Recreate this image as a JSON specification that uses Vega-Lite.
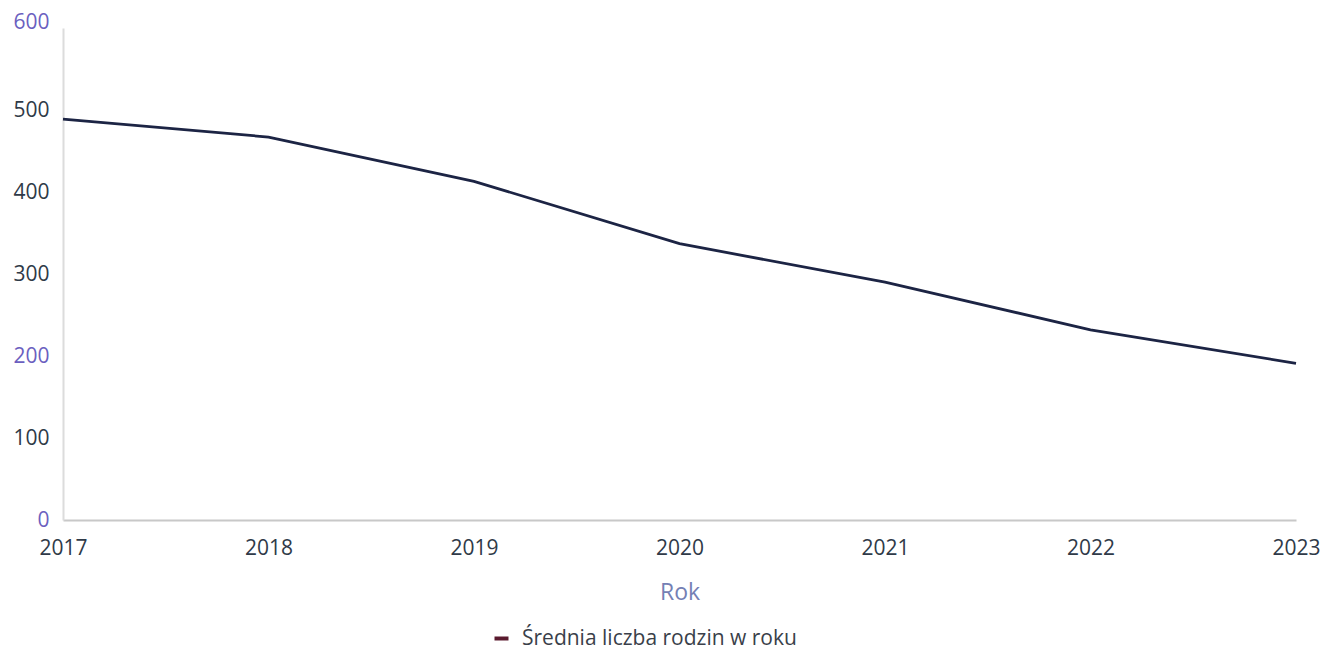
{
  "$schema": "https://vega.github.io/schema/vega-lite/v6.json",
  "width": 1233,
  "height": 492,
  "autosize": {"type": "none"},
  "padding": {"left": 63, "top": 28, "right": 26, "bottom": 130},
  "background": "white",
  "config": {
    "view": {"stroke": null},
    "font": "Open Sans",
    "axis": {"grid": false, "ticks": false, "labelFont": "Open Sans", "titleFont": "Open Sans"}
  },
  "data": {
    "values": [
      {"rok": 2017, "wartosc": 489, "seria": "Średnia liczba rodzin w roku"},
      {"rok": 2018, "wartosc": 467, "seria": "Średnia liczba rodzin w roku"},
      {"rok": 2019, "wartosc": 413, "seria": "Średnia liczba rodzin w roku"},
      {"rok": 2020, "wartosc": 337, "seria": "Średnia liczba rodzin w roku"},
      {"rok": 2021, "wartosc": 290, "seria": "Średnia liczba rodzin w roku"},
      {"rok": 2022, "wartosc": 232, "seria": "Średnia liczba rodzin w roku"},
      {"rok": 2023, "wartosc": 191, "seria": "Średnia liczba rodzin w roku"}
    ]
  },
  "encoding": {
    "x": {
      "field": "rok",
      "type": "quantitative",
      "scale": {"domain": [2017, 2023], "nice": false, "zero": false},
      "axis": {
        "values": [2017, 2018, 2019, 2020, 2021, 2022, 2023],
        "format": "d",
        "title": "Rok",
        "titleColor": "#7480b4",
        "titleFontSize": 23,
        "titleFontWeight": "normal",
        "titlePadding": 23,
        "labelFontSize": 21,
        "labelColor": "#2f3a48",
        "labelPadding": 17,
        "labelFlush": false,
        "domainColor": "#c8c8c8",
        "domainWidth": 2
      }
    },
    "y": {
      "field": "wartosc",
      "type": "quantitative",
      "scale": {"domain": [0, 600], "nice": false},
      "axis": {
        "values": [0, 100, 200, 300, 400, 500, 600],
        "title": null,
        "labelFontSize": 21,
        "labelPadding": 14,
        "labelOffset": {"condition": {"test": "datum.value == 600", "value": -6}, "value": 0},
        "labelColor": {"condition": {"test": "datum.value == 0 || datum.value == 200 || datum.value == 600", "value": "#6b5fc0"}, "value": "#2f3a48"},
        "domainColor": "#dcdcdc",
        "domainWidth": 2
      }
    }
  },
  "layer": [
    {
      "mark": {"type": "line", "strokeWidth": 1},
      "encoding": {
        "color": {
          "field": "seria",
          "type": "nominal",
          "scale": {"range": ["#5a1a2e"]},
          "legend": {
            "title": null,
            "orient": "none",
            "legendX": 428,
            "legendY": 600,
            "symbolType": "stroke",
            "symbolSize": 196,
            "symbolStrokeWidth": 4,
            "labelFontSize": 21,
            "labelColor": "#3a3f4a",
            "labelFont": "Open Sans",
            "labelOffset": 10,
            "labelLimit": 600
          }
        }
      }
    },
    {
      "mark": {"type": "line", "color": "#1c2444", "strokeWidth": 2.8},
      "encoding": {}
    }
  ]
}
